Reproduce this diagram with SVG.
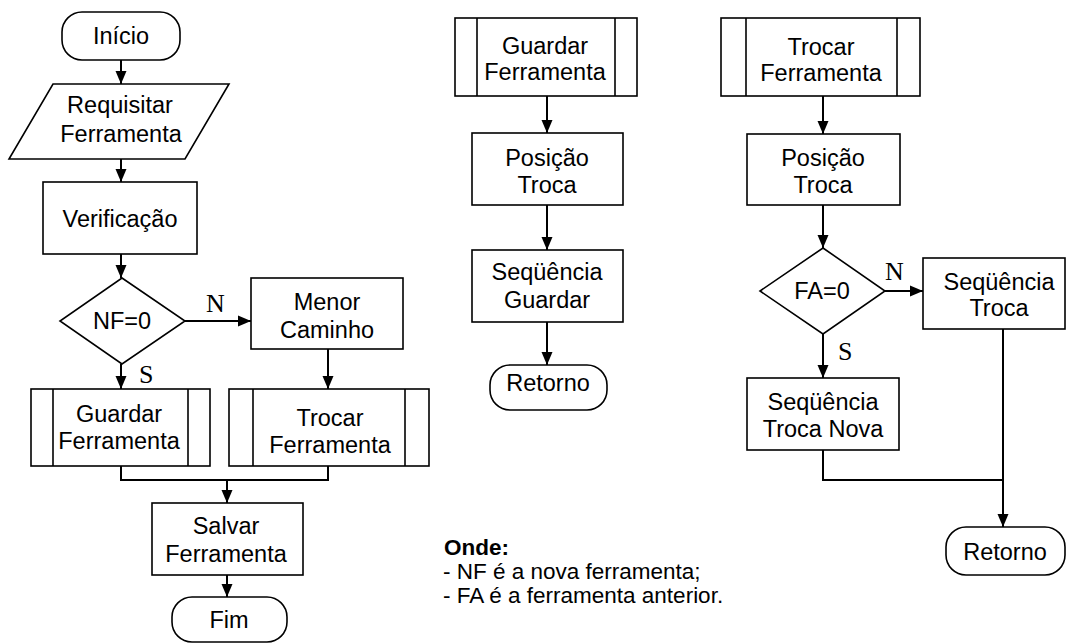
<svg xmlns="http://www.w3.org/2000/svg" width="1067" height="644" viewBox="0 0 1067 644">
<style>
.s{fill:#fff;stroke:#000;stroke-width:1.6}
.l{fill:none;stroke:#000;stroke-width:2}
.t{font-family:"Liberation Sans",Arial,sans-serif;font-size:23.5px;fill:#000;text-anchor:middle}
.y{font-family:"Liberation Serif","Times New Roman",serif;font-size:26px;fill:#000}
.g{font-family:"Liberation Sans",Arial,sans-serif;font-size:22.5px;fill:#000}
</style>
<defs>
<marker id="a" markerUnits="userSpaceOnUse" markerWidth="13" markerHeight="12" viewBox="0 0 13 12" refX="13" refY="6" orient="auto">
<path d="M0,0.5 L13,6 L0,11.5 z" fill="#000"/>
</marker>
</defs>
<rect width="1067" height="644" fill="#fff"/>

<g id="connectors">
<line class="l" x1="121" y1="60" x2="121" y2="84" marker-end="url(#a)"/>
<line class="l" x1="121" y1="159" x2="121" y2="182" marker-end="url(#a)"/>
<line class="l" x1="121" y1="254" x2="121" y2="278" marker-end="url(#a)"/>
<line class="l" x1="185" y1="321" x2="251" y2="321" marker-end="url(#a)"/>
<line class="l" x1="121" y1="364" x2="121" y2="389" marker-end="url(#a)"/>
<line class="l" x1="328" y1="349" x2="328" y2="389" marker-end="url(#a)"/>
<path class="l" d="M121,461 V480 H328 V461"/>
<line class="l" x1="227" y1="480" x2="227" y2="503" marker-end="url(#a)"/>
<line class="l" x1="227" y1="575" x2="227" y2="597" marker-end="url(#a)"/>

<line class="l" x1="547" y1="89" x2="547" y2="133" marker-end="url(#a)"/>
<line class="l" x1="547" y1="205" x2="547" y2="250" marker-end="url(#a)"/>
<line class="l" x1="547" y1="322" x2="547" y2="365" marker-end="url(#a)"/>

<line class="l" x1="823" y1="89" x2="823" y2="134" marker-end="url(#a)"/>
<line class="l" x1="823" y1="205" x2="823" y2="248" marker-end="url(#a)"/>
<line class="l" x1="885" y1="291" x2="923" y2="291" marker-end="url(#a)"/>
<line class="l" x1="823" y1="334" x2="823" y2="378" marker-end="url(#a)"/>
<path class="l" d="M823,450 V480 H1003"/>
<line class="l" x1="1003" y1="329" x2="1003" y2="527" marker-end="url(#a)"/>

<text class="y" x="206" y="312">N</text>
<text class="y" x="139" y="383">S</text>
<text class="y" x="885" y="280">N</text>
<text class="y" x="838" y="360">S</text>
</g>

<g id="inicio">
<rect class="s" x="62" y="12" width="118" height="48" rx="20" ry="20"/>
<text class="t" x="121" y="44">Início</text>
</g>
<g id="requisitar">
<polygon class="s" points="53,84 229,84 185,159 9,159"/>
<text class="t" x="120" y="113">Requisitar</text>
<text class="t" x="121" y="142">Ferramenta</text>
</g>
<g id="verificacao">
<rect class="s" x="43" y="182" width="154" height="72"/>
<text class="t" x="120" y="227">Verificação</text>
</g>
<g id="nf0">
<polygon class="s" points="122,278 185,321 122,364 60,321"/>
<text class="t" x="122" y="329">NF=0</text>
</g>
<g id="menor-caminho">
<rect class="s" x="251" y="278" width="152" height="71"/>
<text class="t" x="327" y="310">Menor</text>
<text class="t" x="327" y="338">Caminho</text>
</g>
<g id="guardar-ferramenta-1">
<rect class="s" x="31" y="389" width="179" height="77"/>
<line class="s" x1="53" y1="389" x2="53" y2="466"/>
<line class="s" x1="188" y1="389" x2="188" y2="466"/>
<text class="t" x="119" y="422">Guardar</text>
<text class="t" x="119" y="449">Ferramenta</text>
</g>
<g id="trocar-ferramenta-1">
<rect class="s" x="229" y="389" width="200" height="77"/>
<line class="s" x1="253" y1="389" x2="253" y2="466"/>
<line class="s" x1="405" y1="389" x2="405" y2="466"/>
<text class="t" x="330" y="426">Trocar</text>
<text class="t" x="330" y="453">Ferramenta</text>
</g>
<g id="salvar">
<rect class="s" x="152" y="503" width="151" height="72"/>
<text class="t" x="226" y="534">Salvar</text>
<text class="t" x="226" y="562">Ferramenta</text>
</g>
<g id="fim">
<rect class="s" x="172" y="597" width="115" height="45" rx="20" ry="20"/>
<text class="t" x="229" y="628">Fim</text>
</g>

<g id="guardar-ferramenta-2">
<rect class="s" x="455" y="18" width="182" height="78"/>
<line class="s" x1="477" y1="18" x2="477" y2="96"/>
<line class="s" x1="615" y1="18" x2="615" y2="96"/>
<text class="t" x="545" y="54">Guardar</text>
<text class="t" x="545" y="80">Ferramenta</text>
</g>
<g id="posicao-troca-1">
<rect class="s" x="472" y="133" width="151" height="72"/>
<text class="t" x="547" y="166">Posição</text>
<text class="t" x="547" y="193">Troca</text>
</g>
<g id="sequencia-guardar">
<rect class="s" x="472" y="250" width="151" height="72"/>
<text class="t" x="547" y="280">Seqüência</text>
<text class="t" x="547" y="308">Guardar</text>
</g>
<g id="retorno-1">
<rect class="s" x="490" y="365" width="117" height="45" rx="20" ry="20"/>
<text class="t" x="548" y="391">Retorno</text>
</g>

<g id="trocar-ferramenta-2">
<rect class="s" x="721" y="18" width="199" height="78"/>
<line class="s" x1="746" y1="18" x2="746" y2="96"/>
<line class="s" x1="897" y1="18" x2="897" y2="96"/>
<text class="t" x="821" y="55">Trocar</text>
<text class="t" x="821" y="81">Ferramenta</text>
</g>
<g id="posicao-troca-2">
<rect class="s" x="747" y="134" width="153" height="71"/>
<text class="t" x="823" y="166">Posição</text>
<text class="t" x="823" y="193">Troca</text>
</g>
<g id="fa0">
<polygon class="s" points="823,248 885,291 823,334 760,291"/>
<text class="t" x="822" y="299">FA=0</text>
</g>
<g id="sequencia-troca">
<rect class="s" x="923" y="258" width="142" height="71"/>
<text class="t" x="999" y="290">Seqüência</text>
<text class="t" x="999" y="316">Troca</text>
</g>
<g id="sequencia-troca-nova">
<rect class="s" x="747" y="378" width="152" height="72"/>
<text class="t" x="823" y="410">Seqüência</text>
<text class="t" x="823" y="437">Troca Nova</text>
</g>
<g id="retorno-2">
<rect class="s" x="946" y="527" width="119" height="48" rx="20" ry="20"/>
<text class="t" x="1005" y="560">Retorno</text>
</g>

<g id="legenda">
<text class="g" x="444" y="555" font-weight="bold">Onde:</text>
<text class="g" x="443" y="579">- NF é a nova ferramenta;</text>
<text class="g" x="443" y="603">- FA é a ferramenta anterior.</text>
</g>
</svg>
